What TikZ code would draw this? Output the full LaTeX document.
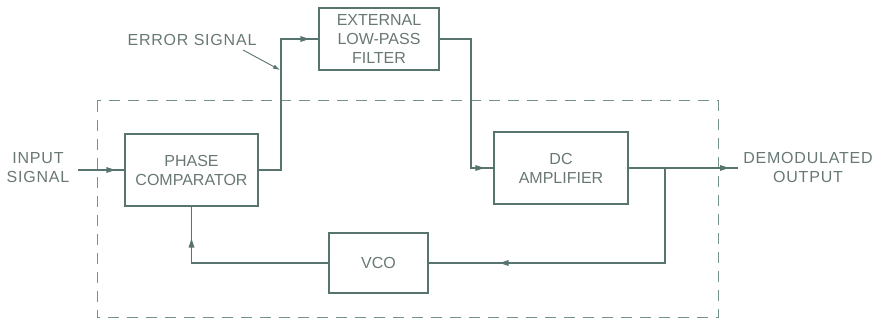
\documentclass[tikz,border=0pt]{standalone}
\usepackage{fontspec}
\setmainfont{Liberation Sans}
\newfontfamily\spacedfont{Liberation Sans}[LetterSpace=5]
\usetikzlibrary{positioning, arrows.meta, decorations.markings}

\definecolor{inkline}{RGB}{88,116,110}
\definecolor{inktext}{RGB}{104,120,117}
\definecolor{inkdash}{RGB}{118,146,140}

\tikzset{
  block/.style={draw=inkline, line width=1.1pt, text=inktext, align=center,
    inner sep=0pt, font=\fontsize{16}{19}\selectfont},
  label/.style={text=inktext, align=center, inner sep=0pt,
    font=\spacedfont\fontsize{16}{19}\selectfont},
  wire/.style={draw=inkline, line width=1.1pt},
  tipat/.style={postaction={decorate}, decoration={markings,
    mark=at position #1 with {\fill[inkline] (2pt,0pt) -- (-7pt,3pt) -- (-7pt,-3pt) -- cycle;}}},
}

\begin{document}
\begin{tikzpicture}[x=1pt,y=-1pt]
    \useasboundingbox (0,0) rectangle (876,320);

    % the part inside the chip
    \draw[inkdash, line width=1pt, dash pattern=on 11pt off 8pt] (97,101) rectangle (718,318);

    \node[block, minimum width=133pt, minimum height=72pt] (pc) at (191.5,170) {PHASE\\COMPARATOR};
    \node[block, minimum width=120pt, minimum height=62pt] (filt) at (379,39) {EXTERNAL\\LOW-PASS\\FILTER};
    \node[block, minimum width=134pt, minimum height=72pt] (dc) at (561,168) {DC\\AMPLIFIER};
    \node[block, minimum width=99pt, minimum height=60pt] (vco) at (378.5,263) {VCO};

    \node[label] (in) at (38,168) {INPUT\\SIGNAL};
    \node[label] (out) at (808,167) {DEMODULATED\\OUTPUT};
    \node[label] (err) at (192,40) {ERROR SIGNAL};

    \coordinate (instart) at (78,170);
    \coordinate (outend) at (738,168);
    \coordinate (tap) at (665,168);
    \coordinate (errtail) at (243,50);
    \coordinate (errtip) at (280,70);

    \draw[wire, tipat=-11pt] (instart) -- (pc.west);
    \draw[wire, tipat=-11pt] (pc.east) -- (281,170) |- (filt.west);
    \draw[wire, tipat=-11pt] (filt.east) -- (471,39) |- (dc.west);
    \draw[wire, tipat=-11pt] (dc.east) -- (outend);
    \draw[wire, tipat=-73pt] (tap) |- (vco.east);
    \draw[wire, tipat=-34pt] (vco.west) -| (pc.south);
    \draw[wire, line width=0.9pt, -{Latex[length=7pt,width=4.5pt]}] (errtail) -- (errtip);
\end{tikzpicture}
\end{document}
